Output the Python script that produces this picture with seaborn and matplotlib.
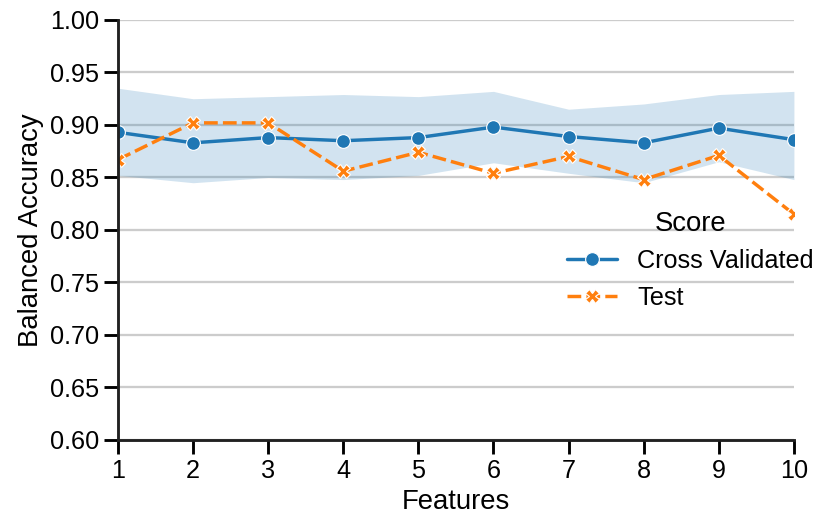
import matplotlib
matplotlib.use("Agg")
import matplotlib.pyplot as plt
import seaborn as sns
import pandas as pd
import numpy as np

features = [1, 2, 3, 4, 5, 6, 7, 8, 9, 10]
cv_scores = [0.893, 0.883, 0.888, 0.885, 0.888, 0.898, 0.889, 0.883, 0.897, 0.886]
test_scores = [0.867, 0.902, 0.902, 0.856, 0.874, 0.854, 0.870, 0.848, 0.871, 0.815]
cv_upper = [0.935, 0.925, 0.927, 0.929, 0.927, 0.932, 0.915, 0.920, 0.929, 0.932]
cv_lower = [0.852, 0.845, 0.850, 0.848, 0.852, 0.864, 0.854, 0.845, 0.865, 0.848]
y_ticks = [0.60, 0.65, 0.70, 0.75, 0.80, 0.85, 0.90, 0.95, 1.00]

sns.set_theme(style="ticks", context="talk", palette="tab10",
              rc={"axes.grid": True, "grid.color": ".8"})
plt.rcParams["font.family"] = ["Liberation Sans", "DejaVu Sans"]
plt.rcParams.update({"text.color": "black", "axes.labelcolor": "black",
                     "xtick.color": "black", "ytick.color": "black",
                     "xtick.labelcolor": "black", "ytick.labelcolor": "black",
                     "axes.edgecolor": ".13"})

df = pd.DataFrame({
    "Features": features * 2,
    "Balanced Accuracy": cv_scores + test_scores,
    "Score": ["Cross Validated"] * len(features) + ["Test"] * len(features),
})

fig = plt.figure(figsize=(8.21 / 1.1, 5.16 / 1.1), dpi=110)
ax = fig.add_axes([0.1437, 0.1473, 0.8233, 0.8140])
ax.grid(axis="x", visible=False)
ax.grid(axis="y", visible=True, color=".8")

ax.fill_between(features, cv_lower, cv_upper, color=sns.color_palette("tab10")[0], alpha=0.2, linewidth=0)
sns.lineplot(data=df, x="Features", y="Balanced Accuracy", hue="Score", style="Score",
             markers=True, palette="tab10", ax=ax)

ax.set_xlim(1, 10)
ax.set_ylim(0.6, 1.0)
ax.set_xticks(features)
ax.set_yticks(y_ticks)
ax.set_yticklabels([f"{t:.2f}" for t in y_ticks])
sns.despine(ax=ax)

leg = ax.legend(title="Score", loc="upper left", bbox_to_anchor=(0.63, 0.6), frameon=False)

fig.savefig("out.png", dpi=110)
